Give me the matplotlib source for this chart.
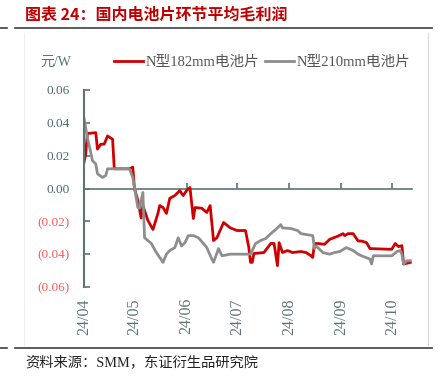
import pandas as pd
import matplotlib
matplotlib.use('Agg')
import matplotlib.pyplot as plt
import matplotlib.dates as mdates
from matplotlib.ticker import FuncFormatter
from matplotlib.lines import Line2D

# days counted from 2024-04-01, values in 元/W
start = pd.Timestamp('2024-04-01')

n182_days = [0, 1, 2, 7, 8, 10, 12, 14, 17, 18, 27, 29, 30, 32, 34, 35, 38, 41, 44, 45,
             47, 49, 51, 54, 57, 58, 59, 61, 63, 65, 66, 70, 73, 75, 77, 79, 83, 87, 91, 96,
             98, 99, 100, 101, 107, 111, 113, 115, 116, 118, 121, 124, 129, 132, 135, 136, 137, 139, 143, 146,
             151, 154, 155, 157, 160, 163, 165, 168, 170, 181, 183, 185, 187, 189, 190, 194]
n182_vals = [0.016, 0.021, 0.0335, 0.034, 0.024, 0.027, 0.027, 0.032, 0.030, 0.012,
             0.012, 0.013, 0.000, -0.0073, -0.018, -0.0104, -0.0195, -0.025, -0.015, -0.0104,
             -0.0116, -0.0152, -0.006, -0.0043, -0.0012, -0.003, -0.0043, -0.0012, 0.0006, -0.0183,
             -0.0116, -0.012, -0.0146, -0.0104, -0.0317, -0.030, -0.0207, -0.024, -0.0256, -0.0256,
             -0.036, -0.045, -0.045, -0.0396, -0.039, -0.0335, -0.0335, -0.047, -0.033, -0.039,
             -0.0378, -0.039, -0.0384, -0.039, -0.041, -0.042, -0.0335, -0.0335, -0.034, -0.031,
             -0.029, -0.0275, -0.0287, -0.0275, -0.0275, -0.032, -0.032, -0.033, -0.0366, -0.037,
             -0.037, -0.0335, -0.0354, -0.0348, -0.046, -0.045]

n210_days = [0, 2, 4, 5, 7, 8, 11, 13, 14, 27, 29, 30, 32, 33, 35, 36, 38, 40, 43, 45,
             47, 49, 51, 54, 56, 58, 60, 62, 65, 68, 71, 73, 76, 77, 80, 82, 87, 99, 102, 105,
             108, 111, 114, 117, 118, 123, 127, 129, 136, 137, 138, 142, 146, 149, 152, 156, 160, 163, 165, 170,
             171, 172, 183, 186, 188, 189, 190, 192, 194]
n210_vals = [0.043, 0.031, 0.022, 0.017, 0.015, 0.009, 0.0067, 0.008, 0.012, 0.012,
             0.0067, 0.0006, -0.0116, -0.012, -0.0024, -0.030, -0.0317, -0.0335, -0.039, -0.042,
             -0.045, -0.040, -0.0378, -0.036, -0.030, -0.035, -0.033, -0.0287, -0.0287, -0.030,
             -0.0335, -0.036, -0.043, -0.045, -0.0366, -0.041, -0.040, -0.040, -0.0335, -0.0317,
             -0.0305, -0.0275, -0.025, -0.022, -0.024, -0.0244, -0.0256, -0.0275, -0.0287, -0.0366,
             -0.035, -0.039, -0.040, -0.039, -0.0384, -0.036, -0.0378, -0.040, -0.041, -0.043,
             -0.046, -0.041, -0.041, -0.0384, -0.0378, -0.040, -0.046, -0.044, -0.044]

month_ticks = ['2024-04-01', '2024-05-01', '2024-06-01', '2024-07-01',
               '2024-08-01', '2024-09-01', '2024-10-01']
y_ticks = [-0.06, -0.04, -0.02, 0.0, 0.02, 0.04, 0.06]

labels = ['N型182mm电池片', 'N型210mm电池片']
title = '图表 24：国内电池片环节平均毛利润'
source = '资料来源：SMM，东证衍生品研究院'

RED = '#D00000'
GREY = '#8E8E8E'
AXC = '#5E7474'
mixed = ['Liberation Serif', 'Noto Sans CJK SC']

W, H = 441, 380
fig = plt.figure(figsize=(W / 100, H / 100), dpi=100)
ax = fig.add_axes([84 / W, 1 - 287 / H, (412 - 84) / W, (287 - 90) / H])

d182 = start + pd.to_timedelta(n182_days, unit='D')
d210 = start + pd.to_timedelta(n210_days, unit='D')
ax.plot(d182, n182_vals, color=RED, lw=2.0, label=labels[0], solid_joinstyle='round')
ax.plot(d210, n210_vals, color=GREY, lw=2.0, label=labels[1], solid_joinstyle='round')

ax.set_ylim(-0.06, 0.06)
ax.set_xlim(start, start + pd.Timedelta(days=195))
ax.set_yticks(y_ticks)
ax.yaxis.set_major_formatter(FuncFormatter(
    lambda v, p: '(%.2f)' % abs(v) if v < -1e-9 else '%.2f' % v))

ticks = [pd.Timestamp(t) for t in month_ticks]
ax.set_xticks(ticks)
ax.xaxis.set_major_formatter(mdates.DateFormatter('%y/%m'))
ax.tick_params(axis='x', length=0, pad=8, labelrotation=90, labelsize=11.5,
               labelcolor=AXC)
ax.tick_params(axis='y', direction='in', length=4, width=1.2, color=AXC, pad=10,
               labelsize=9.5)
for lab in ax.get_xticklabels() + ax.get_yticklabels():
    lab.set_fontfamily('Liberation Serif')
for tk in ax.yaxis.get_major_ticks():
    tk.label1.set_color('#FF5A5A' if tk.get_loc() < -1e-9 else '#4F6767')

for s in ['top', 'right', 'bottom']:
    ax.spines[s].set_visible(False)
ax.spines['left'].set_color(AXC)
ax.spines['left'].set_linewidth(1.5)

# zero line with the month ticks pointing up
sec = ax.secondary_xaxis(0, transform=ax.transData)
sec.set_xticks(mdates.date2num(ticks))
sec.tick_params(direction='in', length=4, width=1.2, color=AXC, labelbottom=False)
sec.spines['bottom'].set_color(AXC)
sec.spines['bottom'].set_linewidth(1.2)

ax.legend(loc='center left', bbox_to_anchor=(114 / W, 1 - 62 / H),
          bbox_transform=fig.transFigure, ncol=2, frameon=False, borderpad=0,
          borderaxespad=0, handlelength=2.0, handletextpad=0.2, columnspacing=0.35,
          prop={'family': mixed, 'size': 10.5}, labelcolor='#555555')

fig.text(40 / W, 1 - 62 / H, '元/W', family=mixed, fontsize=10, color=AXC,
         va='center', ha='left')
fig.text(25 / W, 1 - 15 / H, title, family=['Noto Sans CJK SC'], fontsize=11.5,
         fontweight='bold', color='#C00000', va='center', ha='left')
fig.text(25 / W, 1 - 362 / H, source, family=mixed, fontsize=10.3, color='#222222',
         va='center', ha='left')

for yy in [28, 348]:
    fig.add_artist(Line2D([15 / W, 432 / W], [1 - yy / H] * 2, color='#404040', lw=1.2))
    fig.add_artist(Line2D([0, 7 / W], [1 - yy / H] * 2, color='#404040', lw=1.2))
fig.add_artist(Line2D([428 / W] * 2, [1 - 33 / H, 1 - 345 / H], color='#D9D9D9', lw=0.8))
fig.add_artist(Line2D([24 / W] * 2, [1 - 33 / H, 1 - 345 / H], color='#F0F0F0', lw=0.8))

fig.savefig('out.png', dpi=100)
